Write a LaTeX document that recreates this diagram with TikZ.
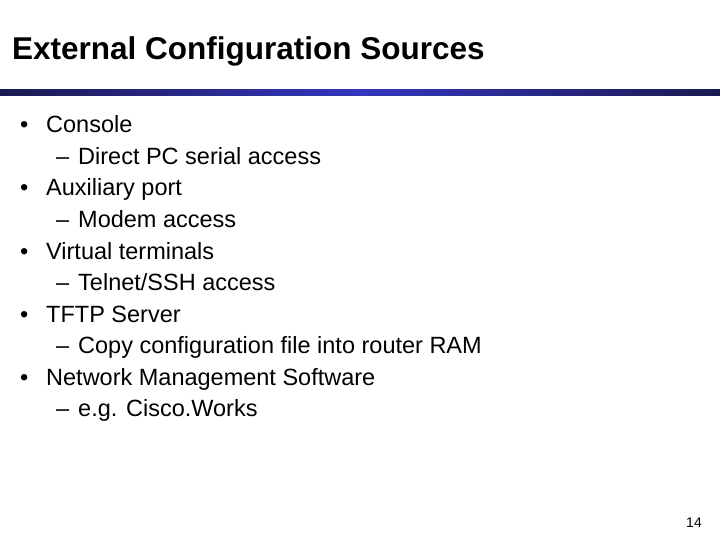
\documentclass[tikz,border=0pt]{standalone}
\usepackage{fontspec}
\setmainfont{Liberation Sans}
\definecolor{edge}{HTML}{1A1A50}
\definecolor{mid}{HTML}{3535BE}
\begin{document}
\begin{tikzpicture}[x=1pt,y=-1pt,
  t/.style={anchor=base west,inner sep=0pt,font=\fontsize{23.5}{28}\selectfont}]
\useasboundingbox[fill=white] (0,0) rectangle (720,540);
\node[anchor=base west,inner sep=0pt,font=\fontsize{31.5}{36}\selectfont\bfseries] (title) at (12,60) {External Configuration Sources};
\shade[left color=edge, right color=edge, middle color=mid] (0,90) rectangle (720,96);
\foreach \y/\b/\s [count=\i] in {133/Console/Direct PC serial access, 196/Auxiliary port/Modem access, 259/Virtual terminals/Telnet\slash SSH access, 322/TFTP Server/Copy configuration file into router RAM, 385/Network Management Software/e.g. Cisco.Works}{
  \node[t] (b\i) at (20,\y) {•};
  \node[t] (bt\i) at (46,\y) {\b};
  \node[t] (d\i) at (56,\y+31.5) {–};
  \node[t] (dt\i) at (78,\y+31.5) {\s};
}
\node[anchor=base east,inner sep=0pt,font=\fontsize{14}{16}\selectfont] (pg) at (702,527) {14};
\end{tikzpicture}
\end{document}
